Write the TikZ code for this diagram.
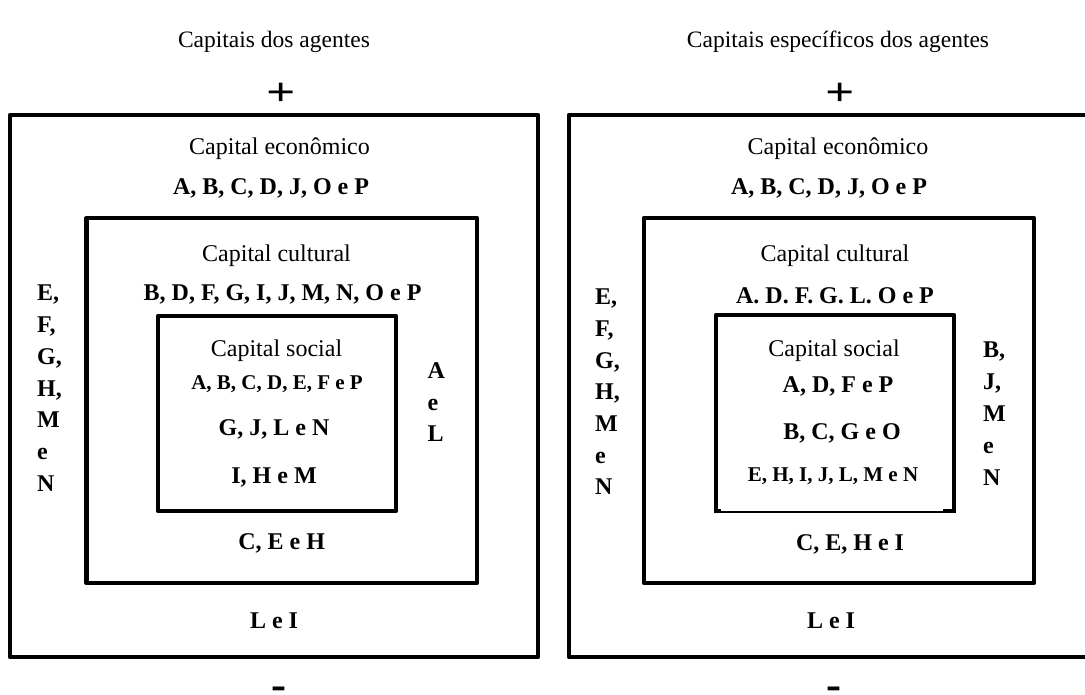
\documentclass[tikz,border=0pt]{standalone}
\usepackage{fontspec}
\setmainfont{Liberation Serif}
\usepackage{graphicx}
\usetikzlibrary{positioning}
\tikzstyle{frame} = [draw, line width=4.8pt, line join=round]
\tikzstyle{heading} = [inner sep=0pt, anchor=base, font=\fontsize{23.5}{28}\selectfont]
\tikzstyle{capname} = [inner sep=0pt, anchor=base, font=\fontsize{24}{29}\selectfont]
\tikzstyle{names} = [inner sep=0pt, anchor=base, font=\bfseries\fontsize{24}{29}\selectfont]
\tikzstyle{small names} = [names, font=\bfseries\fontsize{21}{25}\selectfont]
\tikzstyle{col} = [names, anchor=base west]
\tikzstyle{plussign} = [inner sep=0pt, anchor=center, font=\bfseries\fontsize{39.5}{40}\selectfont]
\tikzstyle{minussign} = [inner sep=0pt, anchor=north, font=\bfseries\fontsize{45}{46}\selectfont]

\begin{document}
\begin{tikzpicture}[x=1pt, y=-1pt]
  \useasboundingbox (0,0) rectangle (1085,695);

  %%%%%%%%%%%%%%%%%%%%%%%%%%%%%%%%%%%%%%%%%%%%%%%%%%%%%%%%%%%%%%
  %                    CAPITAIS DOS AGENTES                    %
  %%%%%%%%%%%%%%%%%%%%%%%%%%%%%%%%%%%%%%%%%%%%%%%%%%%%%%%%%%%%%%

  \node [heading] (title-l) at (274,48) {Capitais dos agentes};
  \node [plussign] (plus-l) at (281,94) {\scalebox{1.3}[1]{+}};

  \draw [frame] (10,115) rectangle (538,657);
  \draw [frame] (86.5,218) rectangle (477,583);
  \draw [frame] (158,316) rectangle (396,511);

  \node [capname] (eco-l) at (279.5,155) {Capital econômico};
  \node [names] (eco-names-l) at (271,195) {A, B, C, D, J, O e P};
  \node [capname] (cult-l) at (276.5,262) {Capital cultural};
  \node [names] (cult-names-l) at (282.6,301) {B, D, F, G, I, J, M, N, O e P};
  \node [capname] (soc-l) at (276.5,356) {Capital social};
  \node [small names] (soc-names-l-1) at (277,389) {A, B, C, D, E, F e P};
  \node [names] (soc-names-l-2) at (274,435) {G, J, L e N};
  \node [names] (soc-names-l-3) at (274,483) {I, H e M};

  \foreach \t [count=\i from 0] in {{E,},{F,},{G,},{H,},M,e,N}
    \node [col] (out-col-l-\i) at (37,301+31.7*\i) {\t};
  \foreach \t [count=\i from 0] in {A,e,L}
    \node [col] (cult-col-l-\i) at (427.5,378.5+31.5*\i) {\t};

  \node [names] (cult-low-l) at (281.7,549) {C, E e H};
  \node [names] (eco-low-l) at (274,628) {L e I};
  \node [minussign] (minus-l) at (278.5,687) {-};

  %%%%%%%%%%%%%%%%%%%%%%%%%%%%%%%%%%%%%%%%%%%%%%%%%%%%%%%%%%%%%%
  %               CAPITAIS ESPECIFICOS DOS AGENTES             %
  %%%%%%%%%%%%%%%%%%%%%%%%%%%%%%%%%%%%%%%%%%%%%%%%%%%%%%%%%%%%%%

  \node [heading] (title-r) at (838,48) {Capitais específicos dos agentes};
  \node [plussign] (plus-r) at (840,94) {\scalebox{1.3}[1]{+}};

  \draw [frame] (569,115) rectangle (1097,657);
  \draw [frame] (644,218) rectangle (1034,583);
  \draw [frame] (716,511) -- (716,315) -- (954,315) -- (954,511);
  \draw [line width=2.5pt] (716,511.8) -- (954,511.8);
  \draw [line width=4.8pt] (713.6,511) -- (721,511);
  \draw [line width=4.8pt] (943,511) -- (956.4,511);

  \node [capname] (eco-r) at (838,155) {Capital econômico};
  \node [names] (eco-names-r) at (829,195) {A, B, C, D, J, O e P};
  \node [capname] (cult-r) at (835,262) {Capital cultural};
  \node [names] (cult-names-r) at (835,303.5) {A. D. F. G. L. O e P};
  \node [capname] (soc-r) at (834,356.5) {Capital social};
  \node [names] (soc-names-r-1) at (838,392) {A, D, F e P};
  \node [names] (soc-names-r-2) at (842,439) {B, C, G e O};
  \node [small names] (soc-names-r-3) at (833,481.7) {E, H, I, J, L, M e N};

  \foreach \t [count=\i from 0] in {{E,},{F,},{G,},{H,},M,e,N}
    \node [col] (out-col-r-\i) at (595,304.7+31.7*\i) {\t};
  \foreach \t [count=\i from 0] in {{B,},{J,},M,e,N}
    \node [col] (cult-col-r-\i) at (983,357+32*\i) {\t};

  \node [names] (cult-low-r) at (850,550) {C, E, H e I};
  \node [names] (eco-low-r) at (831,628) {L e I};
  \node [minussign] (minus-r) at (834,687) {-};

\end{tikzpicture}
\end{document}
